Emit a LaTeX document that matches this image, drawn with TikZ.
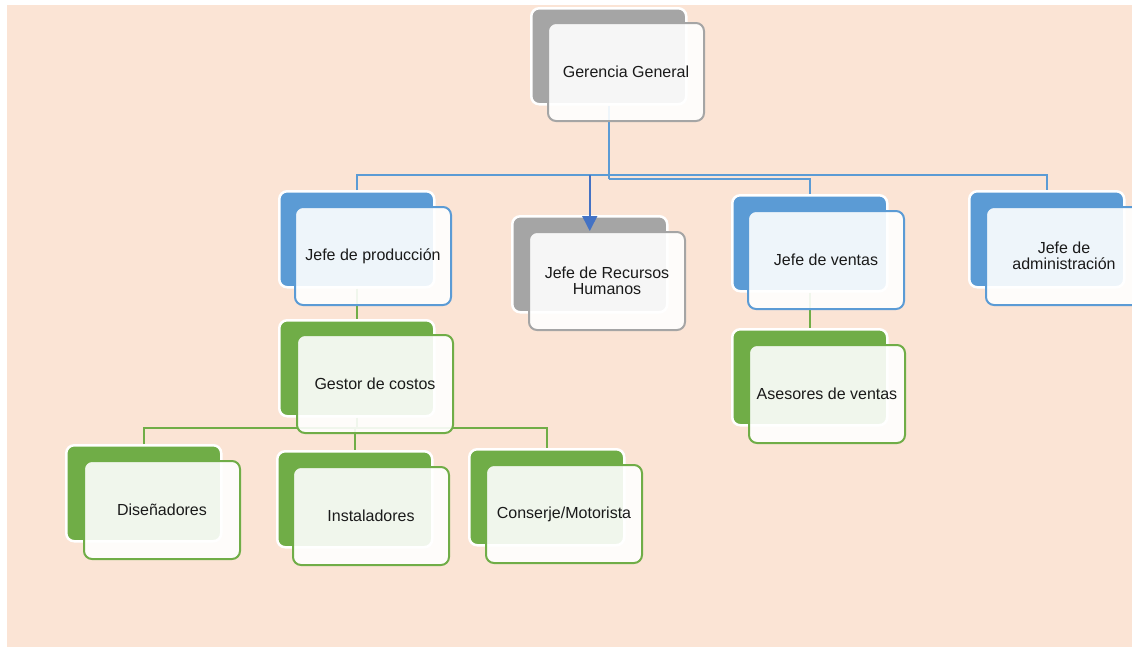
\documentclass[tikz,border=0pt]{standalone}
\usepackage{fontspec}
\setmainfont{Liberation Sans}
\usetikzlibrary{arrows.meta,calc}
\definecolor{peach}{HTML}{FBE4D5}
\definecolor{obBlue}{HTML}{5B9BD5}
\definecolor{obGray}{HTML}{A5A5A5}
\definecolor{obGreen}{HTML}{70AD47}
\definecolor{obArrow}{HTML}{4472C4}
\definecolor{obText}{HTML}{1A1A1A}

\begin{document}
\begin{tikzpicture}[x=1pt,y=-1pt,
  backbox/.style={draw=white, line width=2.5pt, rounded corners=8pt,
    minimum width=155pt, minimum height=96pt, anchor=north west,
    inner sep=0pt, fill=#1},
  frontbox/.style={draw=#1, line width=2pt, rounded corners=8pt,
    minimum width=156pt, minimum height=98pt, anchor=north west,
    fill=white, fill opacity=0.9, text opacity=1, inner sep=0pt,
    align=center, text=obText, font=\fontsize{16}{16.5}\selectfont},
  bluelink/.style={draw=obBlue, line width=2.4pt},
  greenlink/.style={draw=obGreen, line width=2.4pt},
  pointer/.style={draw=obArrow, line width=1.5pt,
    -{Triangle[width=15pt,length=15pt]}, fill=obArrow},
]
\useasboundingbox (0,0) rectangle (1132,649);
\fill[peach] (7,5) rectangle (1132,647);

% back layer: solid coloured cards
\node[backbox=obGray]  (gg-b)   at (530,7)   {};
\node[backbox=obBlue]  (prod-b) at (278,190) {};
\node[backbox=obGray]  (rrhh-b) at (511,215) {};
\node[backbox=obBlue]  (vent-b) at (731,194) {};
\node[backbox=obBlue]  (adm-b)  at (968,190) {};
\node[backbox=obGreen] (gest-b) at (278,319) {};
\node[backbox=obGreen] (ases-b) at (731,328) {};
\node[backbox=obGreen] (dis-b)  at (65,444)  {};
\node[backbox=obGreen] (inst-b) at (276,450) {};
\node[backbox=obGreen] (cons-b) at (468,448) {};

% bus levels
\coordinate (busA) at (0,175);
\coordinate (busB) at (0,179);
\coordinate (busC) at (0,428);

% blue connectors from the top card
\draw[bluelink] (gg-b.south) -- (gg-b.south |- busB);
\draw[bluelink] (prod-b.north) |- (adm-b.north |- busA) -- (adm-b.north);
\draw[bluelink] (gg-b.south |- busB) -| (vent-b.north);

% green connectors
\draw[greenlink] (prod-b.south) -- (prod-b.south |- gest-b.north);
\draw[greenlink] (vent-b.south) -- (vent-b.south |- ases-b.north);
\draw[greenlink] (gest-b.south) -- (gest-b.south |- busC);
\draw[greenlink] (dis-b.north) |- (cons-b.north |- busC) -- (cons-b.north);
\draw[greenlink] (inst-b.north |- busC) -- (inst-b.north);

% front layer: translucent cards with the labels
\node[frontbox=obGray]  (gg-f)   at (547,22)  {Gerencia General};
\node[frontbox=obBlue]  (prod-f) at (294,206) {Jefe de producción};
\node[frontbox=obGray]  (rrhh-f) at (528,231) {Jefe de Recursos\\Humanos};
\node[frontbox=obBlue]  (vent-f) at (747,210) {Jefe de ventas};
\node[frontbox=obBlue]  (adm-f)  at (985,206) {Jefe de\\administración};
\node[frontbox=obGreen] (gest-f) at (296,334) {Gestor de costos};
\node[frontbox=obGreen] (ases-f) at (748,344) {Asesores de ventas};
\node[frontbox=obGreen] (dis-f)  at (83,460)  {Diseñadores};
\node[frontbox=obGreen] (inst-f) at (292,466) {Instaladores};
\node[frontbox=obGreen] (cons-f) at (485,464) {Conserje/Motorista};

% arrow down to human resources
\draw[pointer] (rrhh-b.north |- busA) -- (rrhh-b.north |- rrhh-f.north);
\end{tikzpicture}
\end{document}
